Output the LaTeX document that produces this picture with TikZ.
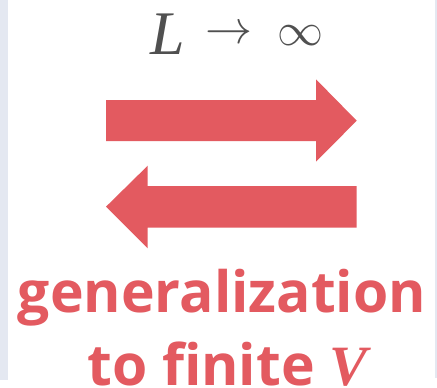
\documentclass[tikz,border=0pt]{standalone}
\usepackage{fontspec}
\setmainfont{Open Sans}
\newfontfamily\serifit{Liberation Serif}
\definecolor{arrowred}{RGB}{227,90,96}
\definecolor{textgray}{RGB}{80,80,80}
\definecolor{stripcol}{RGB}{228,232,241}
\begin{document}
\begin{tikzpicture}[x=1pt,y=-1pt,
  bigarrow/.style={fill=arrowred,draw=none},
  strip/.style={fill=stripcol,draw=none},
  labelred/.style={text=arrowred,font=\fontsize{57}{57}\selectfont\bfseries,inner sep=0pt},
  limtext/.style={text=textgray,inner sep=0pt}]
\useasboundingbox (0,0) rectangle (437,388);
\fill[white] (0,0) rectangle (437,388);
% side strips
\path[strip] (0,0) rectangle (8,380);
\path[strip] (435,0) rectangle (437,378);
% top label L -> infinity
\node[limtext,anchor=base west,font=\fontsize{62}{62}\selectfont] (lL) at (150,54) {\serifit\itshape L};
\node[limtext,anchor=center] (larrow) at (228.5,35) {\scalebox{4.7}{$\to$}};
\node[limtext,anchor=center] (linf) at (300,36) {\scalebox{4.6}{$\infty$}};
% right arrow
\path[bigarrow] (106,100) -- (316,100) -- (316,79.3) -- (356.7,120.7) -- (316,161.7) -- (316,141) -- (106,141) -- cycle;
% left arrow
\path[bigarrow] (356.7,186) -- (147.7,186) -- (147.7,165.7) -- (106,206.7) -- (147.7,248.3) -- (147.7,227.7) -- (356.7,227.7) -- cycle;
% bottom label
\node[labelred,anchor=base] (gen) at (222,312) {generalization};
\node[labelred,anchor=base] (fin) at (227.5,385) {to finite \serifit\bfseries\itshape V};
\end{tikzpicture}
\end{document}
